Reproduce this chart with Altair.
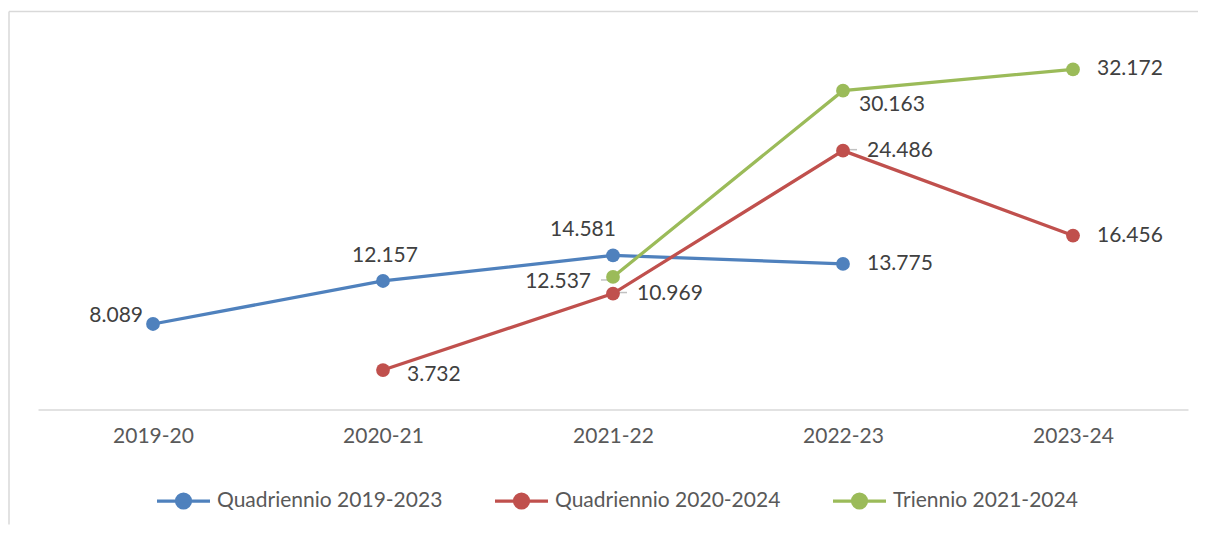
import altair as alt
import pandas as pd

# ---------------- data ----------------
periods = ["2019-20", "2020-21", "2021-22", "2022-23", "2023-24"]
series = ["Quadriennio 2019-2023", "Quadriennio 2020-2024", "Triennio 2021-2024"]
colors = ["#4F81BD", "#C0504D", "#9BBB59"]

q1_periods = ["2019-20", "2020-21", "2021-22", "2022-23"]
q1_values = [8.089, 12.157, 14.581, 13.775]
q1_label_pos = ["left", "above", "above-left", "right"]

q2_periods = ["2020-21", "2021-22", "2022-23", "2023-24"]
q2_values = [3.732, 10.969, 24.486, 16.456]
q2_label_pos = ["right-low", "right-leader", "right-leader", "right"]

t_periods = ["2021-22", "2022-23", "2023-24"]
t_values = [12.537, 30.163, 32.172]
t_label_pos = ["left-leader", "below-right", "right"]

rows = []
for name, pers, vals, poss in [
    (series[0], q1_periods, q1_values, q1_label_pos),
    (series[1], q2_periods, q2_values, q2_label_pos),
    (series[2], t_periods, t_values, t_label_pos),
]:
    for p, v, pos in zip(pers, vals, poss):
        rows.append({"series": name, "period": p, "value": v, "pos": pos})
df = pd.DataFrame(rows)

# ---------------- styles ----------------
FONT = "Lato"
label_styles = {
    "right": dict(align="left", dx=24, dy=0),
    "right-low": dict(align="left", dx=24, dy=5),
    "right-leader": dict(align="left", dx=24, dy=0),
    "left": dict(align="right", dx=-10, dy=-8),
    "left-leader": dict(align="right", dx=-22, dy=5),
    "above": dict(align="center", dx=2, dy=-25),
    "above-left": dict(align="center", dx=-30, dy=-25),
    "below-right": dict(align="left", dx=16, dy=14),
}

legend_path = ("M-1,0L1,0M0.264,0A0.264,0.264,0,1,1,-0.264,0"
               "A0.264,0.264,0,1,1,0.264,0Z")

x_enc = alt.X(
    "period:N",
    scale=alt.Scale(type="point", domain=periods, padding=0.5),
    axis=alt.Axis(
        title=None, labelAngle=0, ticks=False, labelPadding=16,
        labelFont=FONT, labelFontSize=21, labelColor="#595959",
        domainColor="#D9D9D9", domainWidth=1.5, grid=False,
    ),
)
y_enc = alt.Y("value:Q", scale=alt.Scale(domain=[0, 35], nice=False, zero=True), axis=None)

color_scale = alt.Scale(domain=series, range=colors)
legend = alt.Legend(
    title=None, orient="none", legendX=117, legendY=433,
    direction="horizontal", columns=3,
    symbolType=legend_path, symbolSize=2809, symbolStrokeWidth=3.25,
    labelFont=FONT, labelFontSize=21, labelColor="#595959", labelLimit=0,
    labelOffset=5, columnPadding=45, symbolOpacity=1,
)

base = alt.Chart(df)

lines = base.mark_line(strokeWidth=3.25).encode(
    x=x_enc, y=y_enc,
    color=alt.Color("series:N", scale=color_scale, legend=legend),
    detail="series:N",
)

points = base.mark_point(filled=True, size=190, opacity=1).encode(
    x=x_enc, y=y_enc,
    color=alt.Color("series:N", scale=color_scale, legend=legend),
)

leaders = [
    base.transform_filter(alt.datum.pos == "right-leader").mark_tick(
        color="#A6A6A6", thickness=1.5, size=13, xOffset=7.5, yOffset=-1
    ).encode(x=x_enc, y=y_enc),
    base.transform_filter(alt.datum.pos == "left-leader").mark_tick(
        color="#A6A6A6", thickness=1.5, size=12, xOffset=-6, yOffset=3
    ).encode(x=x_enc, y=y_enc),
]

labels = []
for pos, st in label_styles.items():
    labels.append(
        base.transform_filter(alt.datum.pos == pos).mark_text(
            font=FONT, fontSize=21, color="#404040", baseline="middle", **st
        ).encode(x=x_enc, y=y_enc, text=alt.Text("value:Q", format=".3f"))
    )

frame_data = alt.Data(values=[{"k": 1}])
frame_left = alt.Chart(frame_data).mark_rule(color="#D9D9D9", strokeWidth=1.5).encode(
    x=alt.value(-29), y=alt.value(-28), y2=alt.value(485)
)
frame_top = alt.Chart(frame_data).mark_rule(color="#D9D9D9", strokeWidth=1.5).encode(
    x=alt.value(-29), x2=alt.value(1160), y=alt.value(-28)
)

chart = alt.layer(lines, *leaders, points, *labels, frame_left, frame_top).properties(
    width=1150, height=370,
    autosize=alt.AutoSizeParams(type="none"),
    padding={"left": 30, "top": 31.5, "right": 10, "bottom": 115.5},
).configure(font=FONT, background="white").configure_view(stroke="transparent")

chart.save("out.html", embed_options={"renderer": "svg", "actions": False})
